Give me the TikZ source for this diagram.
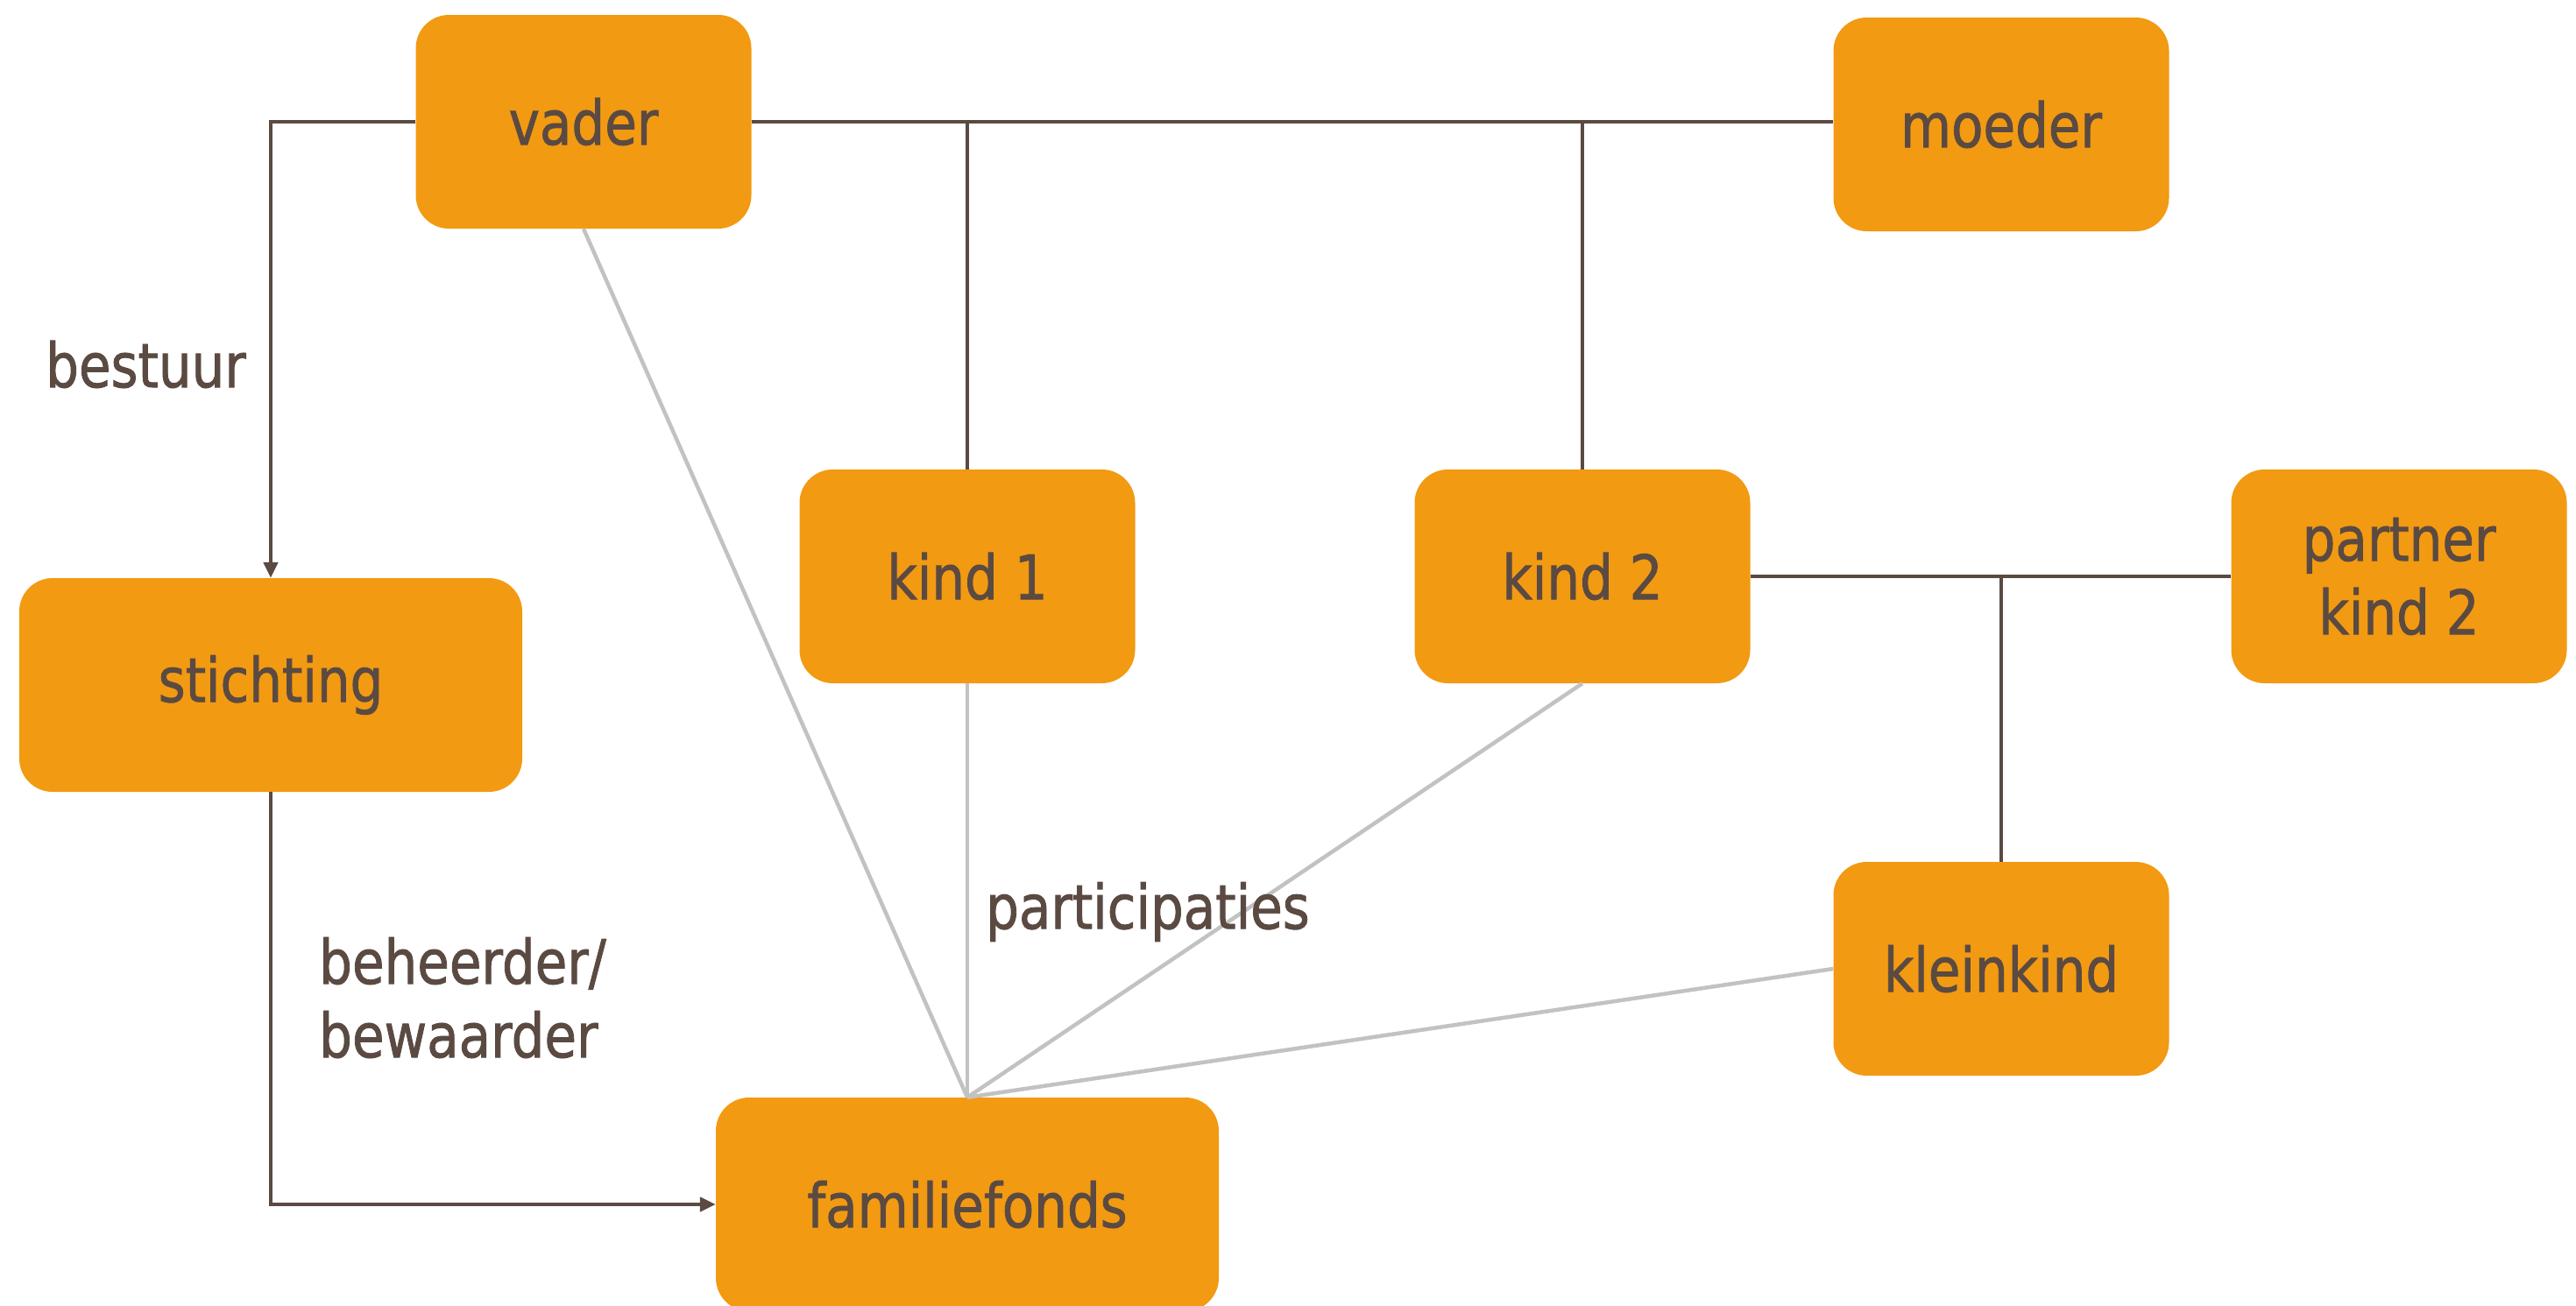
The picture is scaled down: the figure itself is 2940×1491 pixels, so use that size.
\documentclass[tikz,border=0pt]{standalone}
\usepackage{fontspec}
\setmainfont{DejaVu Sans}[FakeStretch=0.85,FakeBold=1.2]
\usetikzlibrary{arrows.meta}
\definecolor{boxorange}{HTML}{F29A12}
\definecolor{txtbrown}{HTML}{5A4A42}
\definecolor{linegray}{HTML}{C2C2C2}
\tikzset{
  famnode/.style={fill=boxorange, rounded corners=38pt, inner sep=0pt,
    minimum width=383pt, minimum height=244pt, text=txtbrown,
    font=\fontsize{70}{84}\selectfont, align=center},
  widebox/.style={famnode, minimum width=574pt},
  darkline/.style={draw=txtbrown, line width=4.5pt},
  grayline/.style={draw=linegray, line width=4.5pt},
  arr/.style={darkline, -{Triangle[length=18pt,width=16pt]}},
  lbl/.style={text=txtbrown, font=\fontsize{70}{84}\selectfont, align=left, anchor=west, inner sep=0pt}
}
\begin{document}
\begin{tikzpicture}[x=1pt,y=-1pt]
\useasboundingbox (0,0) rectangle (2940,1491);
\node[famnode] (vader) at (666,139) {vader};
\node[famnode] (moeder) at (2284,142) {moeder};
\node[famnode] (kind1) at (1104,658) {kind 1};
\node[famnode] (kind2) at (1806,658) {kind 2};
\node[famnode] (partner) at (2738,658) {partner\\kind 2};
\node[widebox] (stichting) at (309,782) {stichting};
\node[famnode] (kleinkind) at (2284,1106) {kleinkind};
\node[widebox] (fonds) at (1104,1375) {familiefonds};
\coordinate (bend) at (309,139);
% gray lines
\draw[grayline] (vader.south) -- (fonds.north);
\draw[grayline] (kind1.south) -- (fonds.north);
\draw[grayline] (kind2.south) -- (fonds.north);
\draw[grayline] (kleinkind.west) -- (fonds.north);
% dark lines
\draw[darkline] (vader.east) -- (vader.east -| moeder.west);
\draw[darkline] (kind1.north) -- (kind1.north |- vader.east);
\draw[darkline] (kind2.north) -- (kind2.north |- vader.east);
\draw[darkline] (kind2.east) -- (partner.west);
\draw[darkline] (kleinkind.north) -- (kleinkind.north |- kind2.east);
\draw[arr] (vader.west) -- (bend) -- (stichting.north);
\draw[arr] (stichting.south) |- (fonds.west);
% labels
\node[lbl] (lbestuur) at (52,416) {bestuur};
\node[lbl] (lbeheer) at (364,1139) {beheerder/\\bewaarder};
\node[lbl] (lpart) at (1125,1041) {participaties};
\end{tikzpicture}
\end{document}
